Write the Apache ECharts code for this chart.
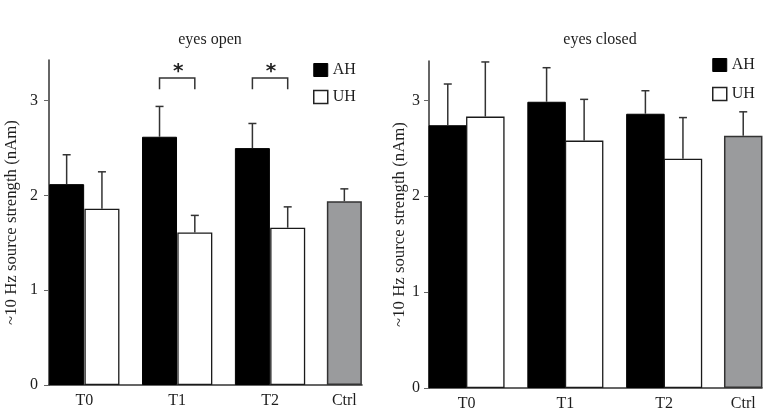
<!DOCTYPE html>
<html>
<head>
<meta charset="utf-8">
<script src="https://cdn.jsdelivr.net/npm/echarts@6/dist/echarts.min.js"></script>
<style>html,body{margin:0;padding:0;background:#fff}#c{width:766px;height:415px}</style>
</head>
<body>
<div id="c"></div>
<script>
// ---- data ----
const categories = ['T0', 'T1', 'T2', 'Ctrl'];
const panelTitles = ['eyes open', 'eyes closed'];
const seriesNames = ['AH', 'UH'];
const yTicks = [0, 1, 2, 3];
const yAxisName = '~10 Hz source strength (nAm)';

// eyes open: mean and upper end of error bar
const openAH = [2.12, 2.62, 2.50];
const openAHTop = [2.43, 2.94, 2.76];
const openUH = [1.86, 1.61, 1.66];
const openUHTop = [2.25, 1.79, 1.88];
const openCtrl = [1.94];
const openCtrlTop = [2.07];

// eyes closed
const closedAH = [2.74, 2.985, 2.86];
const closedAHTop = [3.17, 3.34, 3.10];
const closedUH = [2.83, 2.58, 2.39];
const closedUHTop = [3.40, 3.01, 2.82];
const closedCtrl = [2.63];
const closedCtrlTop = [2.88];

// significance (eyes open): group indexes with '*'
const sigGroups = [1, 2];

// ---- layout ----
const groupPos = [0, 1, 2, 2.8];
const half = 0.19;
const FONT = 'Liberation Serif';
const TXT = '#1e1e1e';

const chart = echarts.init(document.getElementById('c'));

function panel(idx, ah, ahTop, uh, uhTop, ctrl, ctrlTop, barW) {
  const ahData = ah.map((v, i) => [groupPos[i] - half, v]);
  const uhData = uh.map((v, i) => [groupPos[i] + half, v]);
  const ctrlData = ctrl.map(v => [groupPos[3], v]);
  const errData = []
    .concat(ah.map((v, i) => [groupPos[i] - half, v, ahTop[i]]))
    .concat(uh.map((v, i) => [groupPos[i] + half, v, uhTop[i]]))
    .concat(ctrl.map((v, i) => [groupPos[3], v, ctrlTop[i]]));
  const common = { type: 'bar', xAxisIndex: idx, yAxisIndex: idx, barWidth: barW, barGap: '-100%', animation: false };
  return [
    Object.assign({}, common, { name: 'AH', data: ahData, itemStyle: { color: '#000', borderColor: '#000', borderWidth: 1 } }),
    Object.assign({}, common, { name: 'UH', data: uhData, itemStyle: { color: '#fff', borderColor: '#1a1a1a', borderWidth: 1.3 } }),
    Object.assign({}, common, { name: 'Ctrl', data: ctrlData, itemStyle: { color: '#9a9b9d', borderColor: '#333', borderWidth: 1.5 } }),
    {
      type: 'custom', xAxisIndex: idx, yAxisIndex: idx, data: errData, encode: { x: 0, y: [1, 2] },
      z: 3, animation: false, silent: true,
      renderItem: function (params, api) {
        const x = api.value(0), y = api.value(1), t = api.value(2);
        const p0 = api.coord([x, y]), p1 = api.coord([x, t]);
        const st = { stroke: '#333', lineWidth: 1.5 };
        return { type: 'group', children: [
          { type: 'line', shape: { x1: p0[0], y1: p0[1], x2: p1[0], y2: p1[1] }, style: st },
          { type: 'line', shape: { x1: p1[0] - 4, y1: p1[1], x2: p1[0] + 4, y2: p1[1] }, style: st }
        ] };
      }
    }
  ];
}

const bracketData = sigGroups.map(g => [groupPos[g] - half, groupPos[g] + half, 3.24, 3.12, 3.31]);
const bracketSeries = {
  type: 'custom', xAxisIndex: 0, yAxisIndex: 0, data: bracketData, encode: { x: [0, 1], y: [2, 3] },
  animation: false, silent: true, z: 4,
  renderItem: function (params, api) {
    const x1 = api.value(0), x2 = api.value(1), yt = api.value(2), yb = api.value(3), ys = api.value(4);
    const a = api.coord([x1, yb]), b = api.coord([x1, yt]), c = api.coord([x2, yt]), d = api.coord([x2, yb]);
    const s = api.coord([(x1 + x2) / 2, ys]);
    return { type: 'group', children: [
      { type: 'polyline', shape: { points: [a, b, c, d] }, style: { stroke: '#333', lineWidth: 1.5, fill: null } },
      { type: 'text', x: s[0] + 1, y: s[1], style: { text: '*', font: 'bold 20px "DejaVu Sans"', fill: '#222', align: 'center', verticalAlign: 'middle' } }
    ] };
  }
};

function xAxis(idx) {
  return {
    type: 'value', gridIndex: idx, min: -0.38, max: 2.99,
    splitLine: { show: false },
    axisLine: { show: true, onZero: false, lineStyle: { color: '#333', width: 1.6 } },
    axisTick: { show: false },
    axisLabel: {
      customValues: groupPos, margin: 8,
      formatter: function (v) { const i = groupPos.findIndex(p => Math.abs(p - v) < 1e-6); return i >= 0 ? categories[i] : ''; },
      fontFamily: FONT, fontSize: 16, color: TXT
    }
  };
}
function yAxis(idx, max, gap, margin) {
  return {
    type: 'value', gridIndex: idx, min: 0, max: max,
    name: yAxisName, nameLocation: 'middle', nameGap: gap, nameRotate: 90,
    nameTextStyle: { fontFamily: FONT, fontSize: 16.8, color: TXT },
    splitLine: { show: false },
    axisLine: { show: true, onZero: false, lineStyle: { color: '#333', width: 1.5 } },
    axisTick: { show: true, length: 5, customValues: yTicks, lineStyle: { color: '#666', width: 1 } },
    axisLabel: { customValues: yTicks, margin: margin, fontFamily: FONT, fontSize: 16, color: TXT }
  };
}

const legendData = [
  { name: 'AH', itemStyle: { color: '#000', borderColor: '#000', borderWidth: 1 } },
  { name: 'UH', itemStyle: { color: '#fff', borderColor: '#222', borderWidth: 1.5 } }
];
function legend(left, top, gap) {
  return {
    data: legendData, orient: 'vertical', left: left, top: top, itemWidth: 14, itemHeight: 13, itemGap: gap,
    icon: 'rect', selectedMode: false, padding: 0,
    textStyle: { fontFamily: FONT, fontSize: 16, color: TXT }
  };
}

chart.setOption({
  animation: false,
  title: [
    { text: panelTitles[0], left: 205, top: 27, textAlign: 'center', textStyle: { fontFamily: FONT, fontSize: 16, fontWeight: 'normal', color: TXT } },
    { text: panelTitles[1], left: 595, top: 27, textAlign: 'center', textStyle: { fontFamily: FONT, fontSize: 16, fontWeight: 'normal', color: TXT } }
  ],
  legend: [legend(313, 62, 11), legend(712, 57, 13)],
  grid: [
    { left: 49, width: 313, top: 60, height: 325 },
    { left: 429, width: 333, top: 61, height: 327 }
  ],
  xAxis: [xAxis(0), xAxis(1)],
  yAxis: [yAxis(0, 3.43, 29, 11), yAxis(1, 3.41, 18, 9)],
  series: []
    .concat(panel(0, openAH, openAHTop, openUH, openUHTop, openCtrl, openCtrlTop, 35))
    .concat(panel(1, closedAH, closedAHTop, closedUH, closedUHTop, closedCtrl, closedCtrlTop, 38.5))
    .concat([bracketSeries])
});
</script>
</body>
</html>
